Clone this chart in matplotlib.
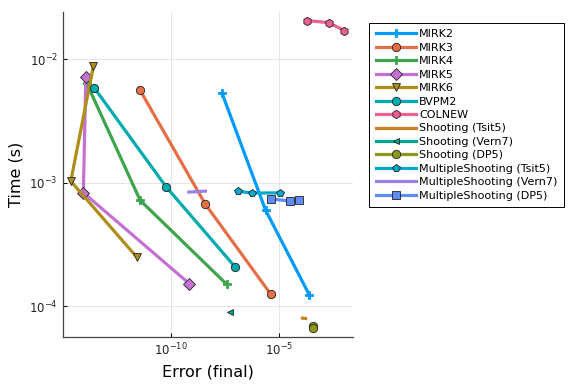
import matplotlib
matplotlib.use('Agg')
import matplotlib.pyplot as plt
from matplotlib.ticker import NullLocator
import numpy as np

# work-precision data: final error vs time (s)
mirk2_err = [2.3e-8, 2.3e-6, 2.4e-4]
mirk2_time = [5.3e-3, 6.0e-4, 1.23e-4]
mirk3_err = [3.9e-12, 3.9e-9, 4.0e-6]
mirk3_time = [5.6e-3, 6.7e-4, 1.25e-4]
mirk4_err = [1.35e-14, 3.9e-12, 3.8e-8]
mirk4_time = [6.4e-3, 7.2e-4, 1.5e-4]
mirk5_err = [1.23e-14, 9.5e-15, 7.2e-10]
mirk5_time = [7.2e-3, 8.3e-4, 1.52e-4]
mirk6_err = [2.75e-14, 2.5e-15, 2.7e-12]
mirk6_time = [8.8e-3, 1.03e-3, 2.5e-4]
bvpm2_err = [2.95e-14, 6.0e-11, 9.1e-8]
bvpm2_time = [5.9e-3, 9.3e-4, 2.08e-4]
colnew_err = [1.95e-4, 1.86e-3, 9.8e-3]
colnew_time = [2.06e-2, 1.98e-2, 1.71e-2]
sh_tsit5_err = [1.15e-4, 1.6e-4]
sh_tsit5_time = [8.0e-5, 7.95e-5]
sh_vern7_err = [5.4e-8]
sh_vern7_time = [8.9e-5]
sh_dp5_err = [3.4e-4, 3.4e-4]
sh_dp5_time = [6.9e-5, 6.6e-5]
ms_tsit5_err = [1.2e-7, 5.4e-7, 1.07e-5]
ms_tsit5_time = [8.55e-4, 8.24e-4, 8.28e-4]
ms_vern7_err = [6.8e-10, 3.9e-9]
ms_vern7_time = [8.4e-4, 8.55e-4]
ms_dp5_err = [4.0e-6, 3.1e-5, 8.3e-5]
ms_dp5_time = [7.4e-4, 7.1e-4, 7.2e-4]

series = [
    ('MIRK2', mirk2_err, mirk2_time, '#009AFA', 'P'),
    ('MIRK3', mirk3_err, mirk3_time, '#E36F47', 'o'),
    ('MIRK4', mirk4_err, mirk4_time, '#3EA44E', 'P'),
    ('MIRK5', mirk5_err, mirk5_time, '#C371D2', 'D'),
    ('MIRK6', mirk6_err, mirk6_time, '#AC8E18', 'v'),
    ('BVPM2', bvpm2_err, bvpm2_time, '#00AAAE', 'o'),
    ('COLNEW', colnew_err, colnew_time, '#ED5E93', 'h'),
    ('Shooting (Tsit5)', sh_tsit5_err, sh_tsit5_time, '#C68225', None),
    ('Shooting (Vern7)', sh_vern7_err, sh_vern7_time, '#00A98D', '<'),
    ('Shooting (DP5)', sh_dp5_err, sh_dp5_time, '#8E971D', 'o'),
    ('MultipleShooting (Tsit5)', ms_tsit5_err, ms_tsit5_time, '#00A9CD', 'p'),
    ('MultipleShooting (Vern7)', ms_vern7_err, ms_vern7_time, '#9B7FE8', None),
    ('MultipleShooting (DP5)', ms_dp5_err, ms_dp5_time, '#618DF6', 's'),
]

fig = plt.figure(figsize=(5.76, 3.84), dpi=100)
ax = fig.add_axes([0.109, 0.122, 0.504, 0.847])

for name, err, t, c, m in series:
    kw = dict(color=c, lw=2.3, label=name)
    if m is not None:
        kw.update(marker=m, markersize=6, markeredgewidth=0.6,
                  markeredgecolor='#222222')
        if m == 'P':
            kw.update(markeredgecolor=c, markersize=6)
        if m == '<':
            kw.update(markersize=4)
    ax.plot(err, t, **kw)

ax.set_xscale('log')
ax.set_yscale('log')
ax.set_xlim(10**-14.97, 10**-1.61)
ax.set_ylim(10**-4.251, 10**-1.616)
ax.set_xticks([1e-10, 1e-5])
ax.set_yticks([1e-4, 1e-3, 1e-2])
ax.xaxis.set_minor_locator(NullLocator())
ax.yaxis.set_minor_locator(NullLocator())
ax.tick_params(direction='in', length=3, labelsize=8.5, width=0.7,
               labelcolor='#222222')
ax.grid(True, color='#e6e6e6', lw=0.7)
for s in ['top', 'right']:
    ax.spines[s].set_visible(False)
for s in ['left', 'bottom']:
    ax.spines[s].set_color('#444444')
    ax.spines[s].set_linewidth(0.9)
ax.set_xlabel('Error (final)', fontsize=11.5)
ax.set_ylabel('Time (s)', fontsize=11.5)

leg = fig.legend(loc='upper left', bbox_to_anchor=(369.3 / 576, 1 - 22.7 / 384),
                 fontsize=8, handlelength=3.6, labelspacing=0.31,
                 fancybox=False, edgecolor='black', framealpha=1,
                 borderpad=0.6, handletextpad=0.3, borderaxespad=0)
leg.get_frame().set_linewidth(0.7)

fig.savefig('out.png', dpi=100)
